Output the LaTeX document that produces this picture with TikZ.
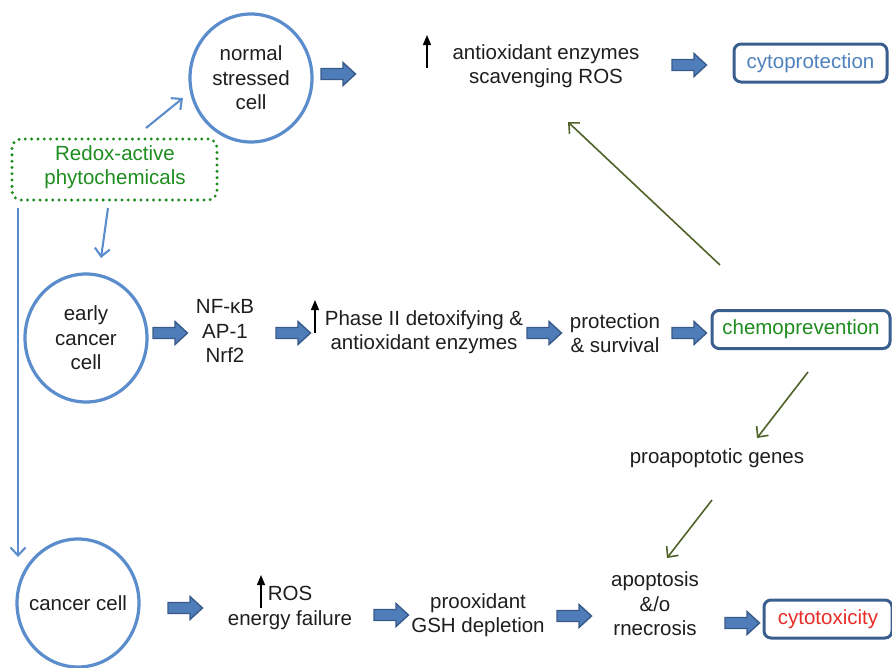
\documentclass[tikz,border=0pt]{standalone}
\usepackage{fontspec}
\setmainfont{Liberation Sans}
\usetikzlibrary{arrows.meta,shapes.geometric}
\definecolor{cellblue}{RGB}{91,140,204}
\definecolor{boxblue}{RGB}{58,95,143}
\definecolor{txtblue}{RGB}{79,129,189}
\definecolor{dgreen}{RGB}{30,140,30}
\definecolor{olivearr}{RGB}{79,98,40}
\definecolor{txtred}{RGB}{232,45,40}
\definecolor{txtdark}{RGB}{30,30,30}
\definecolor{arrfill}{RGB}{79,125,185}
\definecolor{arrdraw}{RGB}{56,90,138}
\tikzset{
  cell/.style={ellipse, draw=cellblue, line width=3.2pt, minimum width=122pt, minimum height=128pt, inner sep=0pt, text=txtdark, align=center},
  lbl/.style={text=txtdark, align=center, inner sep=1pt},
  resbox/.style={draw=boxblue, line width=3pt, rounded corners=7pt, minimum height=38pt, inner sep=2pt},
  redoxbox/.style={draw=dgreen, line width=3.3pt, dash pattern=on 0pt off 6.3pt, line cap=round, rounded corners=9pt, minimum width=205pt, minimum height=61pt},
  thinarr/.style={draw=cellblue, line width=2.1pt, -{Straight Barb[length=8pt,width=15pt,line width=2.1pt]}},
  olivearrow/.style={draw=olivearr, line width=1.6pt, -{Straight Barb[length=8pt,width=15pt,line width=1.6pt]}},
  uparr/.style={draw=black, line width=1.3pt, -{Triangle[length=10pt,width=8pt]}},
  barr/.style={fill=arrfill, draw=arrdraw, line width=1.4pt, line join=miter}
}
\newcommand{\blockarr}[2]{\draw[barr] (#1,#2) ++(0,-5.5) -- ++(22,0) -- ++(0,-6) -- ++(12.5,11.5) -- ++(-12.5,11.5) -- ++(0,-6) -- ++(-22,0) -- cycle;}
\begin{document}
\begin{tikzpicture}[x=1pt,y=-1pt,font=\fontsize{20.5}{24.5}\selectfont]
\useasboundingbox (0,0) rectangle (892,667);

% cells
\node[cell] (normal) at (251,78) {normal\\stressed\\cell};
\node[cell] (early) at (86,338) {early\\cancer\\cell};
\node[cell] (cancer) at (78,603) {};
\node[lbl] (cancertxt) at (cancer) {cancer cell};

% redox box
\node[redoxbox] (redox) at (114.5,169.5) {};
\node[text=dgreen, align=center, inner sep=1pt] (redoxtxt) at (115,167) {Redox-active\\phytochemicals};

% text nodes
\node[lbl] (antiox) at (546,66) {antioxidant enzymes\\scavenging ROS};
\node[resbox, text=txtblue, minimum width=153pt] (cytoprot) at (810.5,63) {cytoprotection};
\node[lbl] (nfkb) at (225,331) {NF-κB\\AP-1\\Nrf2};
\node[lbl] (phase) at (424,332) {Phase II detoxifying \&\\antioxidant enzymes};
\node[lbl] (protect) at (615,333) {protection\\\& survival};
\node[resbox, text=dgreen, minimum width=178pt] (chemo) at (801,329.5) {chemoprevention};
\node[lbl] (proapop) at (717,458) {proapoptotic genes};
\node[lbl] (ros) at (290,608) {ROS\\energy failure};
\node[lbl] (prooxid) at (478,615) {prooxidant\\GSH depletion};
\node[lbl] (apop) at (655,604) {apoptosis\\\&/o\\rnecrosis};
\node[resbox, text=txtred, minimum width=128pt] (cytotox) at (828,619) {cytotoxicity};

% small up arrows
\coordinate (u1a) at (427,68); \coordinate (u1b) at (427,35);
\coordinate (u2a) at (315,333); \coordinate (u2b) at (315,300);
\coordinate (u3a) at (261,608); \coordinate (u3b) at (261,575);
\draw[uparr] (u1a) -- (u1b);
\draw[uparr] (u2a) -- (u2b);
\draw[uparr] (u3a) -- (u3b);

% thin blue arrows
\coordinate (r1a) at (146,128); \coordinate (r1b) at (183,98);
\coordinate (r2a) at (108,208); \coordinate (r2b) at (101,258);
\coordinate (r3a) at (18,208); \coordinate (r3b) at (18,557);
\draw[thinarr] (r1a) -- (r1b);
\draw[thinarr] (r2a) -- (r2b);
\draw[thinarr] (r3a) -- (r3b);

% olive arrows
\coordinate (o1a) at (720,265); \coordinate (o1b) at (568,122);
\coordinate (o2a) at (808,372); \coordinate (o2b) at (757,438);
\coordinate (o3a) at (712,500); \coordinate (o3b) at (667,558);
\draw[olivearrow] (o1a) -- (o1b);
\draw[olivearrow] (o2a) -- (o2b);
\draw[olivearrow] (o3a) -- (o3b);

% block arrows
\blockarr{321}{74}
\blockarr{672}{65}
\blockarr{153}{333}
\blockarr{276}{333}
\blockarr{527}{333}
\blockarr{672}{333}
\blockarr{168}{608}
\blockarr{374}{615}
\blockarr{557}{616}
\blockarr{725}{623}
\end{tikzpicture}
\end{document}
